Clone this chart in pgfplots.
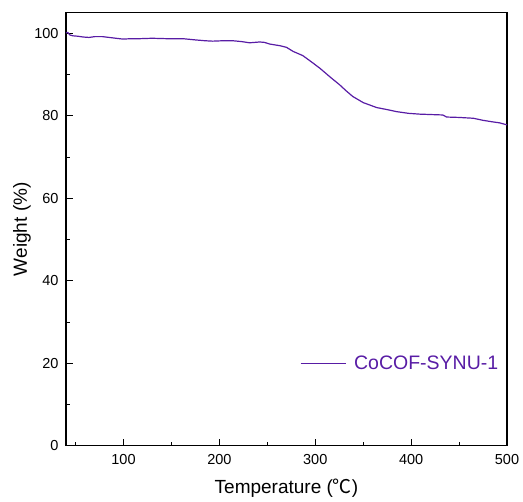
\documentclass[border=0pt]{standalone}
\usepackage{pgfplots}
\pgfplotsset{compat=1.18}
\usepackage{fontspec}
\setmainfont{Liberation Sans}
\newfontfamily\cjk{Noto Sans CJK SC}
\definecolor{cofpurple}{RGB}{88,28,165}
\begin{document}
\begin{tikzpicture}
\begin{axis}[
    scale only axis,
    width=441pt, height=433pt,
    xmin=40, xmax=500,
    ymin=0, ymax=105,
    xtick={100,200,300,400,500},
    ytick={0,20,40,60,80,100},
    minor xtick={50,150,250,350,450},
    minor ytick={10,30,50,70,90},
    tick align=inside,
    tick pos=left,
    major tick length=7pt,
    minor tick length=4pt,
    every tick/.style={black, line width=0.9pt},
    axis line style={line width=1.1pt},
    /pgf/number format/assume math mode=true,
    ticklabel style={font=\fontsize{14.5}{16}\selectfont},
    xticklabel style={yshift=-5pt},
    yticklabel style={xshift=-4pt},
    xlabel={Temperature ({\cjk ℃})},
    ylabel={Weight (\%)},
    label style={font=\fontsize{19}{22}\selectfont},
    xlabel style={at={(axis description cs:0.5,-0.0993)}, anchor=center},
    ylabel style={at={(axis description cs:-0.0998,0.5)}, anchor=center, rotate=0},
    legend style={draw=none, fill=none, at={(rel axis cs:0.53,0.19)}, anchor=west,
        text=cofpurple, font=\fontsize{19.5}{22}\selectfont, inner sep=0pt},
    legend cell align=left,
    legend image code/.code={\draw[#1] (0pt,0pt) -- (45pt,0pt); \path (51pt,0pt);},
]
\addplot[cofpurple, line width=1.2pt] coordinates {
    (40,100.1) (42,100.2) (44,99.6) (47,99.4) (52,99.3) (58,99.1) (64,99.0)
    (70,99.2) (78,99.2) (85,99.0) (92,98.8) (99.5,98.6) (108,98.7) (117,98.7)
    (130,98.8) (145,98.7) (162,98.7) (175,98.4) (185,98.2) (193,98.1) (204,98.2)
    (214,98.2) (223,98.0) (231.5,97.7) (242,97.9) (247,97.8) (252.5,97.4)
    (263,97.0) (270,96.6) (277,95.6) (287,94.6) (297,92.9) (305,91.5)
    (315,89.5) (325.5,87.5) (332,86.1) (339,84.7) (350,83.2) (364,82.0)
    (375,81.5) (385,81.0) (397,80.6) (409,80.4) (421,80.3) (433,80.2)
    (437,79.7) (450,79.6) (465,79.4) (475,78.9) (483,78.6) (492,78.3) (500,77.8)
};
\addlegendentry{CoCOF-SYNU-1}
\end{axis}
\path (-66pt,-55pt) rectangle (457pt,445.7pt);
\end{tikzpicture}
\end{document}
